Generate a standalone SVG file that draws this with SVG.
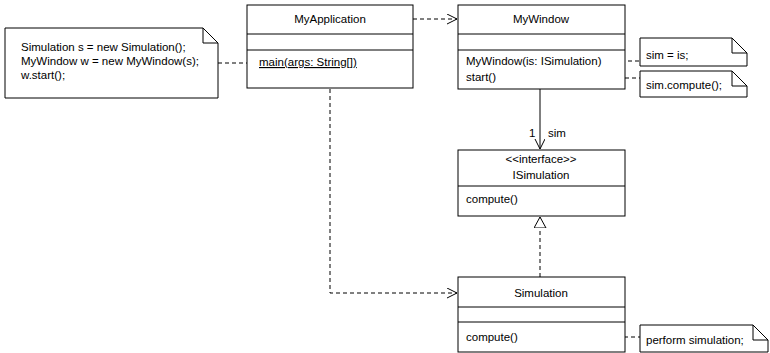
<svg xmlns="http://www.w3.org/2000/svg" width="770" height="353" viewBox="0 0 770 353">
<defs>
<style>
.box{fill:#fff;stroke:#000;stroke-width:1}
.t{font-family:"Liberation Sans",Arial,sans-serif;font-size:11.5px;fill:#000}
.c{text-anchor:middle}
.d{fill:none;stroke:#000;stroke-width:1;stroke-dasharray:4,3}
.s{fill:none;stroke:#000;stroke-width:1}
</style>
<marker id="open" markerWidth="12" markerHeight="12" refX="10" refY="5" orient="auto" markerUnits="userSpaceOnUse">
<path d="M0,0 L10,5 L0,10" fill="none" stroke="#000"/>
</marker>
<marker id="tri" markerWidth="14" markerHeight="14" refX="11" refY="6" orient="auto" markerUnits="userSpaceOnUse">
<path d="M0,0 L11,6 L0,12 Z" fill="#fff" stroke="#000"/>
</marker>
</defs>
<rect width="770" height="353" fill="#fff"/>

<g id="connectors">
<path class="d" d="M413,19 H457" marker-end="url(#open)"/>
<path class="d" d="M330,89 V293 H457" marker-end="url(#open)"/>
<path class="s" d="M540,89 V149" marker-end="url(#open)"/>
<text class="t" x="529" y="137">1</text>
<text class="t" x="548" y="137">sim</text>
<path class="d" d="M540,277 V217" marker-end="url(#tri)"/>
<path class="d" d="M218,63 H256"/>
<path class="d" d="M614,61 H640"/>
<path class="d" d="M506,78 H640"/>
<path class="d" d="M526,337 H640"/>
</g>

<g id="note-main">
<path class="box" d="M5,28 H203 L218,43 V98 H5 Z"/>
<path class="s" d="M203,28 V43 H218"/>
<text class="t" x="21" y="51">Simulation s = new Simulation();</text>
<text class="t" x="21" y="65">MyWindow w = new MyWindow(s);</text>
<text class="t" x="21" y="79">w.start();</text>
</g>

<g id="MyApplication">
<rect class="box" x="247" y="5" width="166" height="83"/>
<line class="s" x1="247" y1="34" x2="413" y2="34"/>
<line class="s" x1="247" y1="50" x2="413" y2="50"/>
<text class="t c" x="330" y="23">MyApplication</text>
<text class="t" x="259" y="66" text-decoration="underline">main(args: String[])</text>
</g>

<g id="MyWindow">
<rect class="box" x="458" y="5" width="167" height="84"/>
<line class="s" x1="458" y1="34" x2="625" y2="34"/>
<line class="s" x1="458" y1="50" x2="625" y2="50"/>
<text class="t c" x="541" y="23">MyWindow</text>
<text class="t" x="466" y="65">MyWindow(is: ISimulation)</text>
<text class="t" x="466" y="81">start()</text>
</g>

<g id="note-sim-is">
<path class="box" d="M640,38 H732 L747,53 V66 H640 Z"/>
<path class="s" d="M732,38 V53 H747"/>
<text class="t" x="646" y="59">sim = is;</text>
</g>

<g id="note-compute">
<path class="box" d="M640,71 H732 L747,86 V97 H640 Z"/>
<path class="s" d="M732,71 V86 H747"/>
<text class="t" x="646" y="89">sim.compute();</text>
</g>

<g id="ISimulation">
<rect class="box" x="458" y="150" width="167" height="66"/>
<line class="s" x1="458" y1="186" x2="625" y2="186"/>
<text class="t c" x="541" y="163">&lt;&lt;interface&gt;&gt;</text>
<text class="t c" x="541" y="179">ISimulation</text>
<text class="t" x="466" y="203">compute()</text>
</g>

<g id="Simulation">
<rect class="box" x="458" y="277" width="167" height="75"/>
<line class="s" x1="458" y1="307" x2="625" y2="307"/>
<line class="s" x1="458" y1="322" x2="625" y2="322"/>
<text class="t c" x="541" y="297">Simulation</text>
<text class="t" x="466" y="341">compute()</text>
</g>

<g id="note-perform">
<path class="box" d="M640,325 H753 L768,340 V352 H640 Z"/>
<path class="s" d="M753,325 V340 H768"/>
<text class="t" x="646" y="344">perform simulation;</text>
</g>
</svg>
